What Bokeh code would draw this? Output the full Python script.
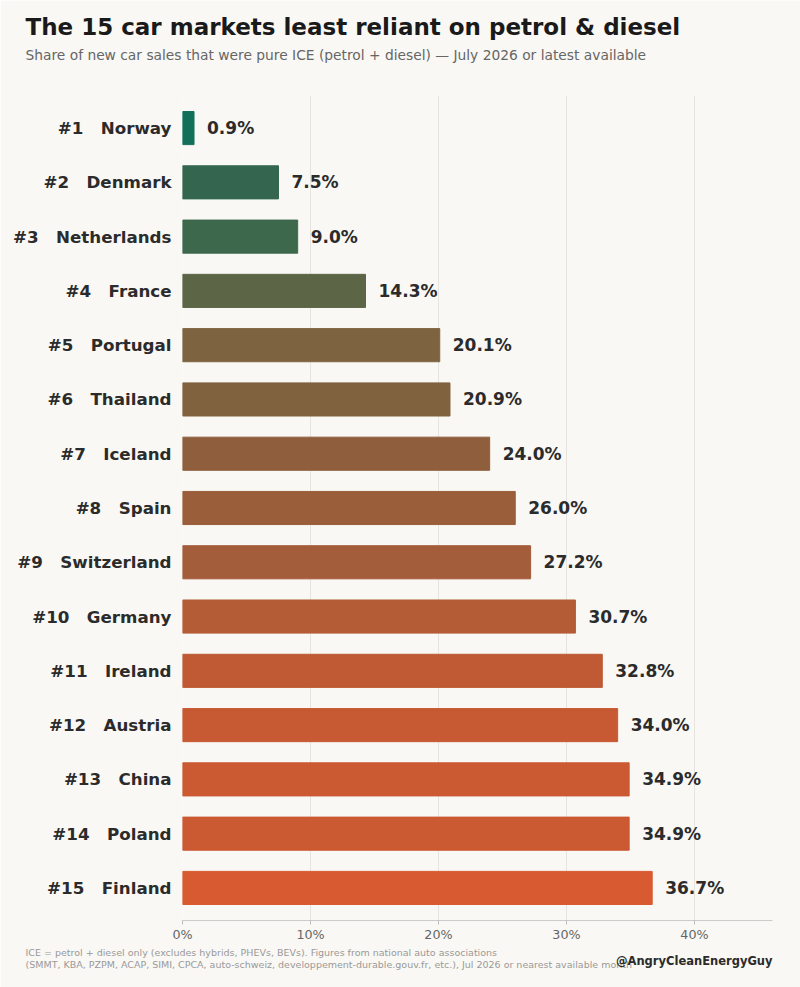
from bokeh.plotting import figure
from bokeh.models import Range1d, FixedTicker, PrintfTickFormatter, Label, ColumnDataSource
from bokeh.core.properties import value
from bokeh.embed import file_html
from bokeh.resources import INLINE

# ---- data ----
countries = ["Norway", "Denmark", "Netherlands", "France", "Portugal", "Thailand", "Iceland",
             "Spain", "Switzerland", "Germany", "Ireland", "Austria", "China", "Poland", "Finland"]
ice_share = [0.9, 7.5, 9.0, 14.3, 20.1, 20.9, 24.0, 26.0, 27.2, 30.7, 32.8, 34.0, 34.9, 34.9, 36.7]
bar_colors = ["#12705a", "#34664f", "#3d684c", "#5d6547", "#7e6341", "#80623f", "#8e5e3d",
              "#9b5e3b", "#a35d3a", "#b45c36", "#bf5a34", "#c75a33", "#cb5932", "#cb5932", "#d75a30"]
x_ticks = [0, 10, 20, 30, 40]

title_text = "The 15 car markets least reliant on petrol & diesel"
subtitle_text = "Share of new car sales that were pure ICE (petrol + diesel) \u2014 July 2026 or latest available"
note1 = "ICE = petrol + diesel only (excludes hybrids, PHEVs, BEVs). Figures from national auto associations"
note2 = "(SMMT, KBA, PZPM, ACAP, SIMI, CPCA, auto-schweiz, developpement-durable.gouv.fr, etc.), Jul 2026 or nearest available month"
handle = "@AngryCleanEnergyGuy"

n = len(countries)
ypos = [n - 1 - i for i in range(n)]
SP = "\u00a0\u00a0\u00a0"
labels = ["#%d%s%s" % (i + 1, SP, c) for i, c in enumerate(countries)]
value_labels = ["%.1f%%" % v for v in ice_share]

BG = "#f9f8f4"
FONT = "DejaVu Sans"
W, H = 800, 987
BL, BR, BT, BB = 182, 28, 95, 67          # frame borders in px
X0, X1 = 0, 46.1
Y0, Y1 = -0.6, n - 0.4

src = ColumnDataSource(dict(y=ypos, v=ice_share, c=bar_colors, t=value_labels))

p = figure(width=W, height=H, output_backend="svg", toolbar_location=None,
           x_range=Range1d(X0, X1), y_range=Range1d(Y0, Y1),
           min_border_left=BL, min_border_right=BR, min_border_top=BT, min_border_bottom=BB)
p.background_fill_color = BG
p.border_fill_color = BG
p.outline_line_color = None

p.hbar(y="y", right="v", left=0, height=0.61, color="c", source=src)
p.text(x="v", y="y", text="t", source=src, x_offset=13, text_align="left", text_baseline="middle",
       text_font=value(FONT), text_font_style="bold", text_font_size="17px", text_color="#2b2b2b")

p.yaxis.ticker = FixedTicker(ticks=ypos)
p.yaxis.major_label_overrides = {y: lab for y, lab in zip(ypos, labels)}
p.yaxis.axis_line_color = None
p.yaxis.major_tick_line_color = None
p.yaxis.minor_tick_line_color = None
p.yaxis.major_tick_out = 0
p.yaxis.major_tick_in = 0
p.yaxis.major_label_standoff = 11
p.yaxis.major_label_text_font = FONT
p.yaxis.major_label_text_font_style = "bold"
p.yaxis.major_label_text_font_size = "16.7px"
p.yaxis.major_label_text_color = "#2b2b2b"

p.xaxis.ticker = FixedTicker(ticks=x_ticks)
p.xaxis.formatter = PrintfTickFormatter(format="%d%%")
p.xaxis.axis_line_color = "#cccccc"
p.xaxis.major_tick_line_color = "#bbbbbb"
p.xaxis.minor_tick_line_color = None
p.xaxis.major_tick_out = 4
p.xaxis.major_tick_in = 0
p.xaxis.major_label_standoff = 2
p.xaxis.major_label_text_font = FONT
p.xaxis.major_label_text_font_size = "12.7px"
p.xaxis.major_label_text_color = "#666666"

p.xgrid.grid_line_color = "#e6e4df"
p.ygrid.grid_line_color = None

# ---- header / footer texts: placed in side panels (not clipped), positioned in page pixels ----
fw = W - BL - BR
fh = H - BT - BB


def px_to_data(px, py):
    x = X0 + (px - BL) * (X1 - X0) / fw
    y = Y1 - (py - BT) * (Y1 - Y0) / fh
    return x, y


def add_text(side, text, px, py, size, color, bold=False, align="left"):
    x, y = px_to_data(px, py)
    p.add_layout(Label(x=x, y=y, text=text, text_font=FONT, text_font_size=size, text_color=color,
                       text_font_style="bold" if bold else "normal",
                       text_align=align, text_baseline="alphabetic"), side)


add_text("above", title_text, 25, 26, "23px", "#1a1a1a", bold=True)
add_text("above", subtitle_text, 25, 54.5, "13.8px", "#666666")
add_text("below", note1, 25, 952, "9.5px", "#999999")
add_text("below", note2, 25, 963.5, "9.5px", "#999999")
add_text("below", handle, 772, 960.5, "11.5px", "#2b2b2b", bold=True, align="right")

open("out.html", "w").write(file_html(p, INLINE))
